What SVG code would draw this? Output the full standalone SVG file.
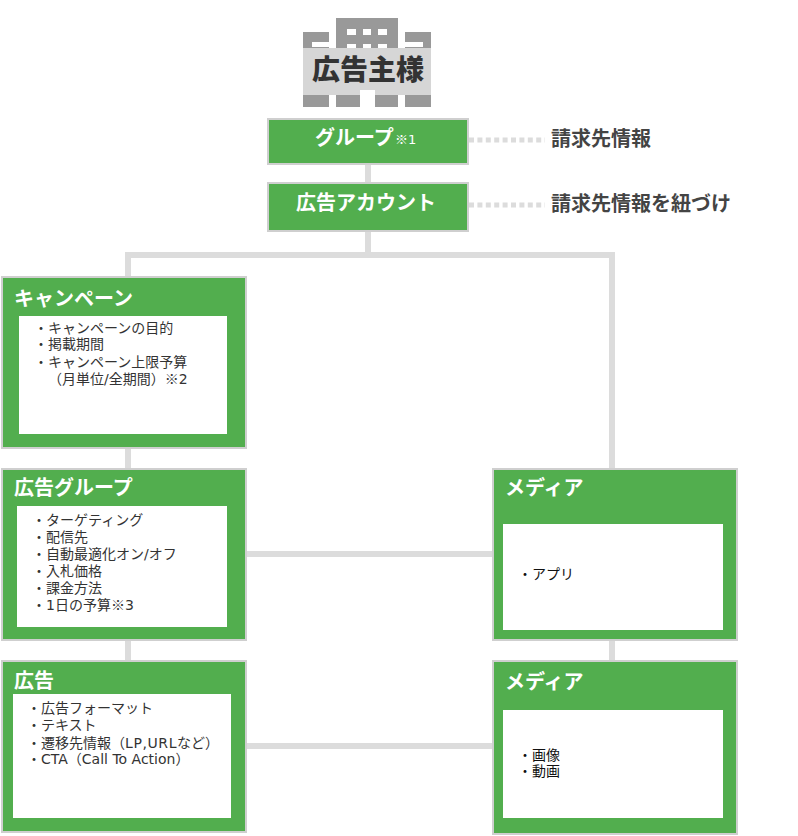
<svg xmlns="http://www.w3.org/2000/svg" width="798" height="836" viewBox="0 0 798 836">
<style>
text{font-family:"DejaVu Sans","Noto Sans CJK JP",sans-serif}
.box{fill:#52ae4e;stroke:#cfcfcf;stroke-width:2}
.in{fill:#fff}
.t{fill:#fff;font-weight:700;font-size:20px}
.b{fill:#333;font-size:14px}
.m{font-family:"Noto Sans CJK JP",sans-serif}
.c{stroke:#dcdcdc;stroke-width:6;fill:none}
.d{stroke:#dcdcdc;stroke-width:5;stroke-dasharray:5 3.4;fill:none}
.k{fill:#444;font-weight:700;font-size:20px}
.bld{fill:#999}
.w{fill:#fff}
.bll{fill:#d6d6d6}
</style>
<defs><filter id="soft" x="-5%" y="-5%" width="110%" height="110%"><feGaussianBlur stdDeviation="0.7"/></filter></defs>
<rect width="798" height="836" fill="#fff"/>
<g id="connectors">
<path class="c" d="M368 160V186M368 228V258M128 255H612M128 252V280M612 252V472M128 446V472M128 638V664M612 638V664M245 554H494M245 746H494"/>
<path class="d" d="M469 140H545M469 205H545"/>
</g>
<g id="advertiser">
<g filter="url(#soft)">
<rect class="bld" x="303" y="32" width="26" height="75"/>
<rect class="bld" x="405" y="32" width="26" height="75"/>
<rect class="bld" x="336" y="18" width="62" height="89"/>
<rect class="w" x="312" y="42" width="17" height="5"/>
<rect class="w" x="405" y="42" width="18" height="5"/>
<rect class="w" x="347" y="29" width="9" height="6"/><rect class="w" x="363" y="29" width="8" height="6"/><rect class="w" x="378" y="29" width="9" height="6"/>
<rect class="w" x="347" y="44" width="9" height="5"/><rect class="w" x="363" y="44" width="8" height="5"/><rect class="w" x="378" y="44" width="9" height="5"/>
<rect class="bll" x="303" y="48" width="128" height="47"/>
<rect class="w" x="329" y="95" width="7" height="12"/><rect class="w" x="398" y="95" width="7" height="12"/><rect class="w" x="360" y="90" width="15" height="17"/>
</g>
<text x="368" y="80" text-anchor="middle" style="fill:#333;font-weight:900;font-size:28px">広告主様</text>
</g>
<g id="group"><rect class="box" x="268" y="119" width="200" height="45"/><text class="t" x="315" y="145">グループ</text><text x="395" y="144" style="fill:#fff;font-size:13px"><tspan class="m">※</tspan>1</text></g>
<g id="account"><rect class="box" x="268" y="183" width="200" height="48"/><text class="t" x="296" y="210">広告アカウント</text></g>
<g id="billing"><text class="k" x="551" y="146">請求先情報</text></g>
<g id="billing-link"><text class="k" x="551" y="211">請求先情報を紐づけ</text></g>
<g id="campaign"><rect class="box" x="2" y="277" width="244" height="171"/><rect class="in" x="19" y="316" width="208" height="118"/><text class="t" x="14" y="306">キャンペーン</text>
<text class="b"><tspan x="34" y="333">・キャンペーンの目的</tspan><tspan x="34" y="349">・掲載期間</tspan><tspan x="34" y="367">・キャンペーン上限予算</tspan><tspan x="48" y="384">（月単位/全期間）</tspan><tspan class="m">※</tspan><tspan>2</tspan></text></g>
<g id="adgroup"><rect class="box" x="2" y="469" width="244" height="171"/><rect class="in" x="17" y="506" width="210" height="121"/><text class="t" x="14" y="495">広告グループ</text>
<text class="b"><tspan x="32" y="525">・ターゲティング</tspan><tspan x="32" y="542">・配信先</tspan><tspan x="32" y="559">・自動最適化オン/オフ</tspan><tspan x="32" y="576">・入札価格</tspan><tspan x="32" y="593">・課金方法</tspan><tspan x="32" y="610">・1日の予算</tspan><tspan class="m">※</tspan><tspan>3</tspan></text></g>
<g id="ad"><rect class="box" x="2" y="661" width="244" height="171"/><rect class="in" x="13" y="694" width="218" height="124"/><text class="t" x="14" y="688">広告</text>
<text class="b"><tspan x="27" y="713">・広告フォーマット</tspan><tspan x="27" y="730">・テキスト</tspan><tspan x="27" y="748">・遷移先情報（</tspan><tspan letter-spacing="0.6">LP,URL</tspan><tspan>など）</tspan><tspan x="27" y="764">・CTA（Call To Action）</tspan></text></g>
<g id="media1"><rect class="box" x="493" y="469" width="244" height="171"/><rect class="in" x="503" y="524" width="220" height="106"/><text class="t" x="505" y="495">メディア</text>
<text class="b" style="fill:#111"><tspan x="518" y="579">・アプリ</tspan></text></g>
<g id="media2"><rect class="box" x="493" y="661" width="244" height="173"/><rect class="in" x="503" y="710" width="220" height="108"/><text class="t" x="505" y="689">メディア</text>
<text class="b" style="fill:#111"><tspan x="518" y="760">・画像</tspan><tspan x="518" y="776">・動画</tspan></text></g>
</svg>
